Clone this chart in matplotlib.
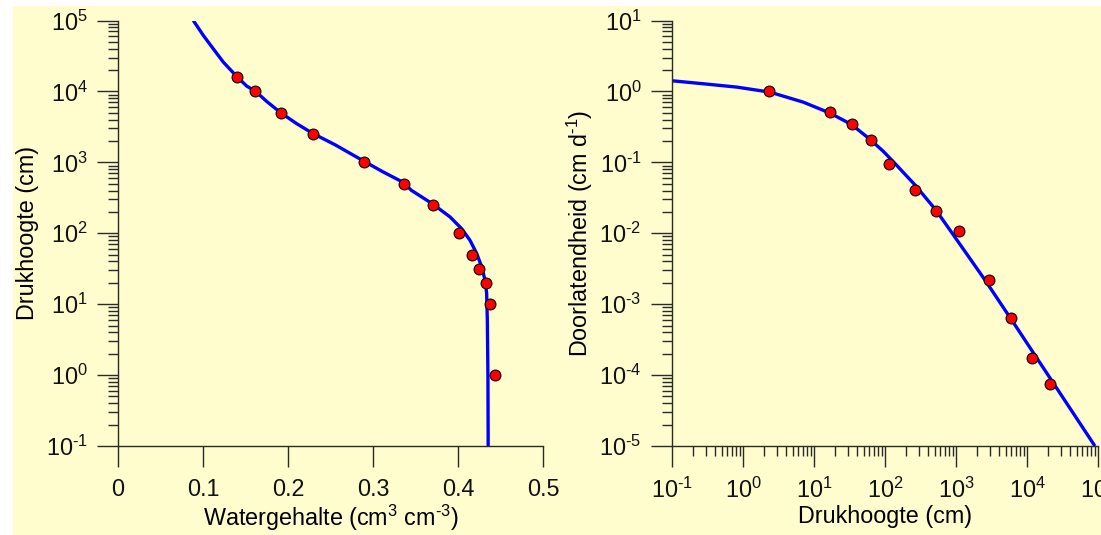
import numpy as np
import matplotlib
matplotlib.use('Agg')
import matplotlib.pyplot as plt
from matplotlib.patches import Rectangle
from matplotlib.ticker import LogLocator, NullFormatter, FixedLocator, FixedFormatter

plt.rcParams['font.family'] = ['Liberation Sans', 'DejaVu Sans']
plt.rcParams['mathtext.fontset'] = 'custom'
plt.rcParams['mathtext.rm'] = 'Liberation Sans'
plt.rcParams['mathtext.it'] = 'Liberation Sans:italic'
plt.rcParams['mathtext.default'] = 'regular'

# measured retention points: water content (cm3/cm3) vs pressure head (cm)
theta_obs = [0.140, 0.1616, 0.1914, 0.229, 0.2898, 0.3365, 0.3706, 0.4012, 0.4169, 0.4251, 0.4326, 0.4373, 0.4431]
h_obs = [16000, 10000, 5000, 2500, 1000, 500, 250, 100, 50, 31, 20, 10, 1.0]

# fitted retention curve
theta_fit = [0.0886, 0.1004, 0.1121, 0.1239, 0.1400, 0.1514, 0.1620, 0.1749, 0.1914, 0.2102,
             0.2291, 0.2553, 0.2898, 0.3121, 0.3361, 0.3450, 0.3706, 0.3906, 0.4043, 0.4141,
             0.4220, 0.4279, 0.4318, 0.4337, 0.4345, 0.4352, 0.4355]
h_fit = [1.0e5, 61500, 39900, 25900, 16100, 11900, 10000, 7230, 5010, 3510,
         2560, 1770, 1030, 730, 518, 404, 257, 170, 116, 79.6,
         51.8, 33.5, 21.8, 14.2, 5.96, 1.0, 0.1]

# measured conductivity points: pressure head (cm) vs K (cm/d)
hk_obs = [2.3, 16.6, 34, 63, 115, 265, 517, 1091, 2944, 5960, 11800, 21200]
k_obs = [1.0, 0.506, 0.343, 0.209, 0.096, 0.041, 0.0206, 0.0107, 0.00216, 0.00063, 0.000176, 7.46e-5]

# fitted conductivity curve
hk_fit = [0.1, 0.276, 0.815, 2.40, 7.06, 16.8, 34.0, 61.5, 94.6, 131, 265, 518, 822, 2560, 7160, 90400]
k_fit = [1.413, 1.282, 1.151, 0.977, 0.706, 0.495, 0.340, 0.211, 0.143, 0.102, 0.0479, 0.0214,
         0.0111, 0.00219, 4.68e-4, 1.0e-5]

theta_ticks = [0, 0.1, 0.2, 0.3, 0.4, 0.5]
theta_ticklabels = ['0', '0.1', '0.2', '0.3', '0.4', '0.5']
h_ticks = [1e-1, 1e0, 1e1, 1e2, 1e3, 1e4, 1e5]
h_ticklabels = [r'$10^{\text{-}1}$', '$10^{0}$', '$10^{1}$', '$10^{2}$', '$10^{3}$', '$10^{4}$', '$10^{5}$']
k_ticks = [1e-5, 1e-4, 1e-3, 1e-2, 1e-1, 1e0, 1e1]
k_ticklabels = [r'$10^{\text{-}5}$', r'$10^{\text{-}4}$', r'$10^{\text{-}3}$', r'$10^{\text{-}2}$',
                r'$10^{\text{-}1}$', '$10^{0}$', '$10^{1}$']

bg = '#FFFDCD'
axcol = '#2a2a2a'
fs = 16.8

fig = plt.figure(figsize=(11.01, 5.35), dpi=100)
fig.patches.append(Rectangle((13 / 1101, 0), 1 - 13 / 1101, 529 / 535, transform=fig.transFigure,
                             facecolor=bg, edgecolor='none', zorder=-5))


def style_axes(ax):
    ax.set_facecolor('none')
    for s in ['top', 'right']:
        ax.spines[s].set_visible(False)
    for s in ['left', 'bottom']:
        ax.spines[s].set_color(axcol)
        ax.spines[s].set_linewidth(1.0)
    ax.tick_params(which='major', direction='out', length=15, width=1.0, color=axcol,
                   labelsize=fs, labelcolor='#111111')
    ax.tick_params(which='minor', direction='out', length=7.5, width=1.0, color=axcol)
    ax.tick_params(axis='x', which='major', pad=8)
    ax.tick_params(axis='y', which='major', pad=7)


def log_minor(axis):
    axis.set_minor_locator(LogLocator(base=10, subs=np.arange(2, 10), numticks=100))
    axis.set_minor_formatter(NullFormatter())


# retention curve
ax1 = fig.add_axes([118 / 1101, 89 / 535, 425 / 1101, 425.5 / 535])
ax1.plot(theta_fit, h_fit, color='#0000FF', lw=2.4, solid_capstyle='butt', solid_joinstyle='round', zorder=2)
ax1.plot(theta_obs, h_obs, 'o', mfc='#FF0000', mec='black', ms=7.8, mew=0.8, zorder=3)
ax1.set_yscale('log')
ax1.set_xlim(0, 0.5)
ax1.set_ylim(0.1, 1e5)
ax1.xaxis.set_major_locator(FixedLocator(theta_ticks))
ax1.xaxis.set_major_formatter(FixedFormatter(theta_ticklabels))
ax1.yaxis.set_major_locator(FixedLocator(h_ticks))
ax1.yaxis.set_major_formatter(FixedFormatter(h_ticklabels))
log_minor(ax1.yaxis)
style_axes(ax1)
ax1.set_xlabel(r'Watergehalte (cm$^{3}$ cm$^{\text{-}3}$)', fontsize=fs, labelpad=1)
ax1.set_ylabel('Drukhoogte (cm)', fontsize=fs, labelpad=5)

# conductivity curve
ax2 = fig.add_axes([672 / 1101, 89 / 535, 426 / 1101, 425.5 / 535])
ax2.plot(hk_fit, k_fit, color='#0000FF', lw=2.4, solid_capstyle='butt', solid_joinstyle='round', zorder=2)
ax2.plot(hk_obs, k_obs, 'o', mfc='#FF0000', mec='black', ms=7.8, mew=0.8, zorder=3)
ax2.set_xscale('log')
ax2.set_yscale('log')
ax2.set_xlim(0.1, 1e5)
ax2.set_ylim(1e-5, 10)
ax2.xaxis.set_major_locator(FixedLocator(h_ticks))
ax2.xaxis.set_major_formatter(FixedFormatter(h_ticklabels))
ax2.yaxis.set_major_locator(FixedLocator(k_ticks))
ax2.yaxis.set_major_formatter(FixedFormatter(k_ticklabels))
log_minor(ax2.xaxis)
log_minor(ax2.yaxis)
style_axes(ax2)
ax2.set_xlabel('Drukhoogte (cm)', fontsize=fs, labelpad=1)
ax2.set_ylabel(r'Doorlatendheid (cm d$^{\text{-}1}$)', fontsize=fs, labelpad=3)

fig.savefig('out.png', dpi=100, facecolor='white')
